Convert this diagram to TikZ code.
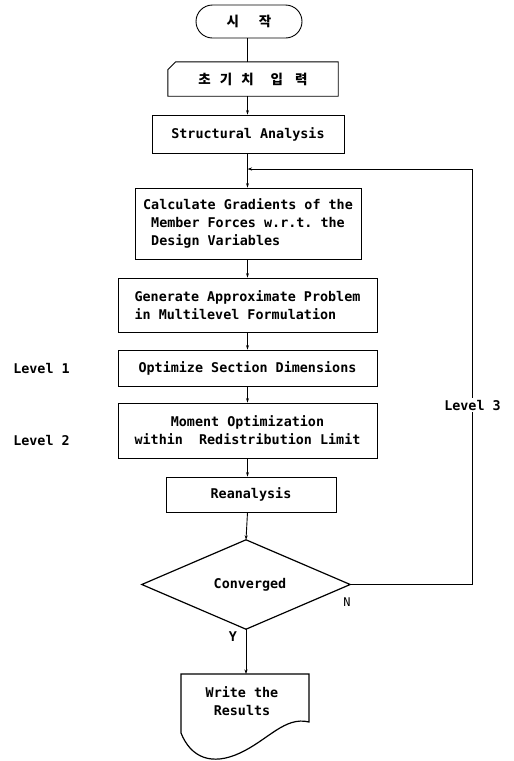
\documentclass[tikz,border=0pt]{standalone}
\usepackage{fontspec}
\setmonofont{DejaVu Sans Mono}
\newfontfamily\krfont{Noto Sans CJK KR}
\usetikzlibrary{arrows.meta,calc}
\begin{document}
\begin{tikzpicture}[x=1pt,y=-1pt,
  txtfont/.style={font=\ttfamily\bfseries\fontsize{13.4}{18}\selectfont},
  box/.style={draw, line width=0.9pt, rectangle, inner sep=0pt, txtfont, align=center},
  ghost/.style={inner sep=0pt, txtfont, align=center},
  lab/.style={inner sep=2pt, txtfont},
  arr/.style={line width=0.9pt, -{Stealth[length=4.5pt,width=3pt]}},
  ln/.style={line width=0.9pt},
  thk/.style={line width=1.2pt}
]
\useasboundingbox (0,0) rectangle (514,761);
\coordinate (spine) at (247.5,0);

% start terminal
\node[draw, line width=0.9pt, rectangle, rounded corners=16.5pt, minimum width=106pt, minimum height=33pt,
      inner sep=0pt, font=\krfont\bfseries\fontsize{13.5}{16}\selectfont] (term) at (249,21.5) {시\hspace{20pt}작};

% manual input
\node[ghost, minimum width=170pt, minimum height=34pt, font=\krfont\bfseries\fontsize{13.5}{16}\selectfont] (inp) at (253,79)
  {초\hspace{9pt}기\hspace{9pt}치\hspace{17pt}입\hspace{12pt}력};
\draw[ln] ($(inp.north west)+(8,0)$) -- (inp.north east) -- (inp.south east) -- (inp.south west) -- ($(inp.north west)+(0,8)$) -- cycle;

\node[box, minimum width=192pt, minimum height=38pt] (struct) at (248,134) {Structural Analysis};

\node[box, minimum width=226pt, minimum height=71pt, align=left] (calc) at (248,223.5)
  {Calculate Gradients of the\\\phantom{x}Member Forces w.r.t. the\\\phantom{x}Design Variables};

\node[box, minimum width=259pt, minimum height=54pt, align=left] (gen) at (247.5,305)
  {Generate Approximate Problem\\in Multilevel Formulation};

\node[box, minimum width=259pt, minimum height=36pt] (opt) at (247.5,368) {Optimize Section Dimensions};

\node[box, minimum width=259pt, minimum height=55pt] (mom) at (247.5,430.5)
  {Moment Optimization\\within\ \ Redistribution Limit};

\node[box, minimum width=170pt, minimum height=35pt] (rean) at (251,494.5) {Reanalysis};

% decision
\node[ghost, minimum width=208pt, minimum height=89pt] (dia) at (246,584.5) {\hspace{8pt}Converged};
\draw[thk] (dia.west) -- (dia.north) -- (dia.east) -- (dia.south) -- cycle;

% output document
\node[ghost] (wr) at (242,701) {Write the\\Results};
\coordinate (wtop) at (245,674);
\draw[thk] (181,733) -- (181,674) -- (309,674) -- (309,722)
  .. controls (285,716) and (268,740) .. (240,753)
  .. controls (212,766) and (191,758) .. (181,733);

% side labels
\node[lab] (lv1) at (41.5,368) {Level 1};
\node[lab] (lv2) at (41.5,440) {Level 2};
\node[lab] (lv3) at (472.5,405) {Level 3};
\node[inner sep=0pt, font=\ttfamily\fontsize{12}{14}\selectfont] (nlab) at (347,602) {N};
\node[inner sep=0pt, txtfont] (ylab) at (233,637) {Y};

% connectors
\draw[ln] (term.south -| spine) -- (inp.north -| spine);
\draw[arr] (inp.south -| spine) -- (struct.north -| spine);
\draw[arr] (struct.south -| spine) -- (calc.north -| spine);
\draw[arr] (calc.south -| spine) -- (gen.north -| spine);
\draw[arr] (gen.south -| spine) -- (opt.north -| spine);
\draw[arr] (opt.south -| spine) -- (mom.north -| spine);
\draw[arr] (mom.south -| spine) -- (rean.north -| spine);
\draw[arr] (rean.south -| spine) -- (dia.north);
\draw[arr] (dia.south) -- (dia.south |- wtop);

% loop back
\coordinate (lc) at (472,584.5);
\coordinate (lt) at (472,169);
\coordinate (jn) at (247.5,169);
\draw[ln] (dia.east) -- (lc) -- (lv3.south -| lc);
\draw[arr] (lv3.north -| lc) -- (lt) -- (jn);
\end{tikzpicture}
\end{document}
